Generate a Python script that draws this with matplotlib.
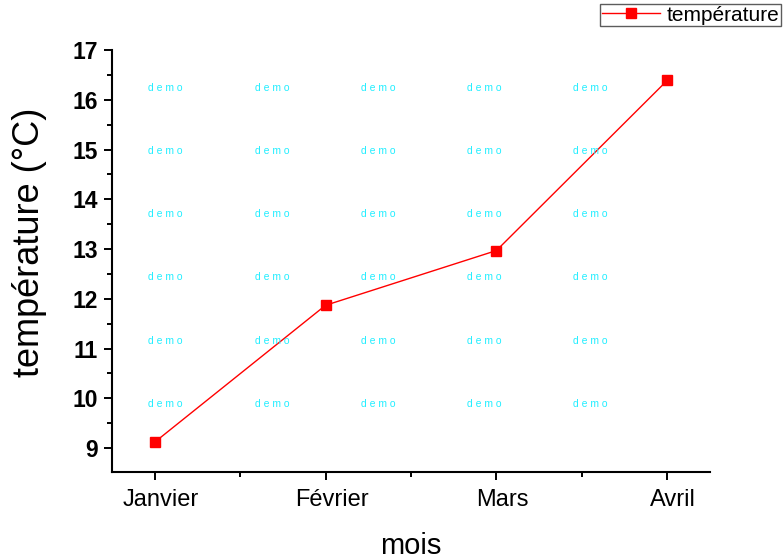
import matplotlib
matplotlib.use("Agg")
import matplotlib.pyplot as plt
from matplotlib.ticker import MultipleLocator
from matplotlib.lines import Line2D
from matplotlib.transforms import ScaledTranslation

plt.rcParams['font.family'] = ['Liberation Sans', 'DejaVu Sans']

mois = ["Janvier", "Février", "Mars", "Avril"]
temperature = [9.12, 11.87, 12.97, 16.39]

fig = plt.figure(figsize=(7.83, 5.6), dpi=100)
ax = fig.add_axes([112/783, 1-472/560, (710-112)/783, (472-50)/560])

x = list(range(len(mois)))
ax.plot(x, temperature, color='red', lw=1, marker='s', markersize=7.5, label='température')

ax.set_xlim(-0.25, 3.25)
ax.set_ylim(8.52, 17)
ax.set_xticks(x)
ax.set_xticklabels(mois, fontsize=17)
ax.xaxis.set_minor_locator(MultipleLocator(0.5))
ax.yaxis.set_major_locator(MultipleLocator(1))
ax.yaxis.set_minor_locator(MultipleLocator(0.5))
for lab in ax.get_yticklabels():
    lab.set_fontweight('bold')
    lab.set_fontsize(16.5)
ax.tick_params(which='major', direction='out', length=6, width=1.4, pad=4)
ax.tick_params(which='minor', direction='out', length=3.5, width=1.4)
ax.tick_params(axis='x', which='major', pad=6)
off = ScaledTranslation(6/100, 0, fig.dpi_scale_trans)
for lab in ax.get_xticklabels():
    lab.set_transform(lab.get_transform() + off)
for s in ['top', 'right']:
    ax.spines[s].set_visible(False)
for s in ['left', 'bottom']:
    ax.spines[s].set_linewidth(1.5)

ax.set_xlabel('mois', fontsize=21)
ax.xaxis.set_label_coords(0.5, (472-546)/422)
ax.xaxis.label.set_va('center')
ax.set_ylabel('température (°C)', fontsize=26)
ax.yaxis.set_label_coords((30-112)/598, (472-242)/422)
ax.yaxis.label.set_va('center')

# watermark
cols = [165, 272, 378, 484, 590]
rows = [88, 151, 214, 277, 341, 404]
for cx in cols:
    for ry in rows:
        fig.text(cx/783, 1-ry/560, 'd e m o', color='#22eeff', fontsize=7.5,
                 ha='center', va='center', zorder=0)

handle = Line2D([], [], color='red', lw=1, marker='s', markersize=7.5)
leg = fig.legend([handle], ['température'], loc='upper right',
                 bbox_to_anchor=(781/783, 1-4/560), fontsize=15,
                 frameon=True, fancybox=False, handlelength=2.8,
                 borderpad=0.08, handletextpad=0.3, borderaxespad=0)
leg.get_frame().set_edgecolor('#333333')
leg.get_frame().set_linewidth(1)

fig.savefig('out.png', dpi=100)
